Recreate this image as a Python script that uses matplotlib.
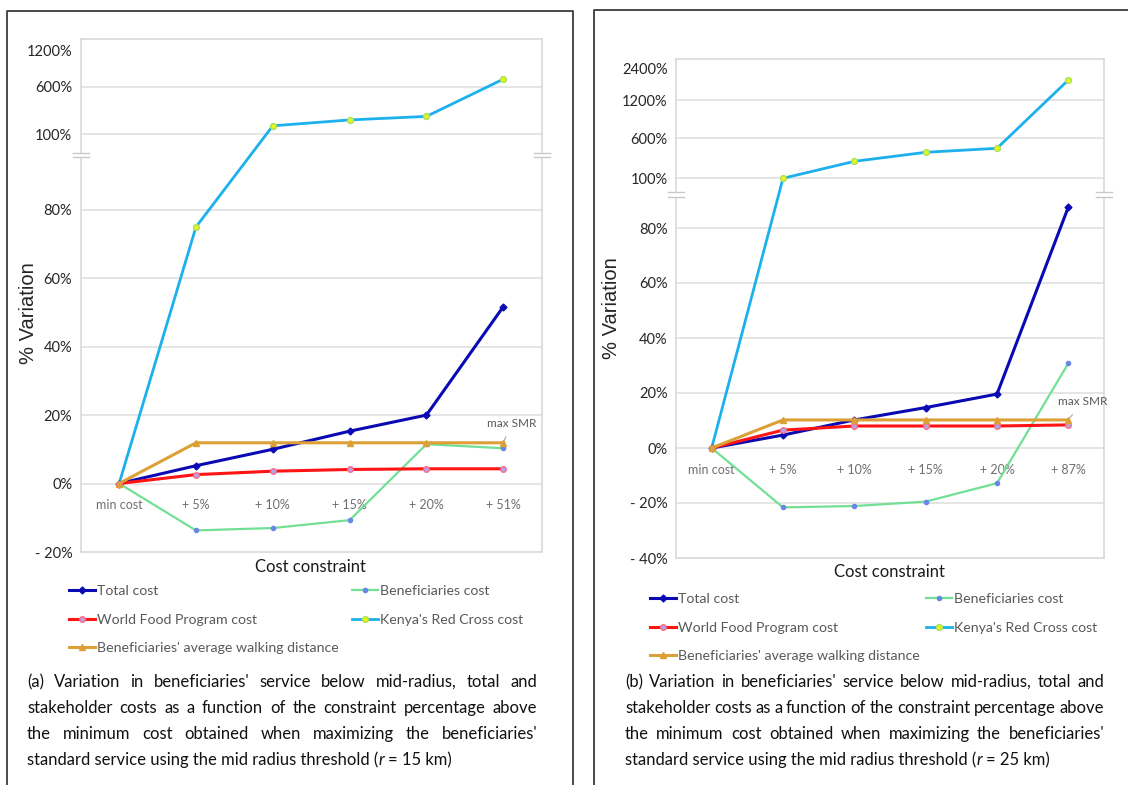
import numpy as np
import matplotlib
matplotlib.use("Agg")
import matplotlib.pyplot as plt
from matplotlib.lines import Line2D
from matplotlib.patches import Rectangle

plt.rcParams['font.family'] = ['Lato', 'DejaVu Sans']

# ---- data ----
cats_a = ['min cost', '+ 5%', '+ 10%', '+ 15%', '+ 20%', '+ 51%']
total_a = [0, 5.2, 10.0, 15.3, 20.0, 51.7]
bene_a = [0, -13.7, -13.0, -10.7, 11.5, 10.3]
wfp_a = [0, 2.6, 3.6, 4.1, 4.3, 4.3]
krc_a = [0, 75, 189, 251, 288, 723]
walk_a = [0, 11.9, 11.9, 11.9, 11.9, 11.9]

cats_b = ['min cost', '+ 5%', '+ 10%', '+ 15%', '+ 20%', '+ 87%']
total_b = [0, 4.7, 10.2, 14.7, 19.6, 87.6]
bene_b = [0, -21.6, -21.1, -19.5, -12.8, 30.8]
wfp_b = [0, 6.5, 8.0, 8.0, 8.0, 8.4]
krc_b = [0, 100, 312, 425, 475, 1950]
walk_b = [0, 10.2, 10.2, 10.2, 10.2, 10.2]

ticks_a = [-20, 0, 20, 40, 60, 80, 100, 600, 1200]
ticks_b = [-40, -20, 0, 20, 40, 60, 80, 100, 600, 1200, 2400]

labels = ['Total cost', 'Beneficiaries cost', 'World Food Program cost',
          "Kenya's Red Cross cost", "Beneficiaries' average walking distance"]

caption_a = ["(a) Variation in beneficiaries' service below mid-radius, total and",
             "stakeholder costs as a function of  the constraint percentage above",
             "the minimum cost obtained when maximizing the beneficiaries'"]
caption_b = ["(b) Variation in beneficiaries' service below mid-radius, total and",
             "stakeholder costs as a function of  the constraint percentage above",
             "the minimum cost obtained when maximizing the beneficiaries'"]
last_a = ("standard service using the mid radius threshold (", "r", " = 15 km)")
last_b = ("standard service using the mid radius threshold (", "r", " = 25 km)")

W, H = 1128, 785
fig = plt.figure(figsize=(W / 100, H / 100), dpi=100)
fig.patch.set_facecolor('white')


def fx(x):
    return x / W


def fy(y):
    return 1 - y / H


def pct(v):
    if v < 0:
        return '- %d%%' % -v
    return '%d%%' % v


# broken-axis scale: piecewise linear (value -> screen distance above 0%)
def broken_scale(vals, pos):
    vals = np.asarray(vals, float)
    pos = np.asarray(pos, float)

    def fwd(v):
        return np.interp(v, vals, pos)

    def inv(p):
        return np.interp(p, pos, vals)
    return fwd, inv


styles = [
    dict(color='#0a0ab4', lw=2.2, marker='D', ms=3.5, mfc='#0a0ab4', mec='#0a0ab4', zorder=4),
    dict(color='#72e094', lw=1.6, marker='o', ms=3, mfc='#6a86e6', mec='#6a86e6', zorder=3),
    dict(color='#ff1414', lw=2.2, marker='o', ms=4, mfc='#a8a8f0', mec='#ff6a8a', zorder=5),
    dict(color='#1cb0ec', lw=2.0, marker='o', ms=4.2, mfc='#e8f51a', mec='#a8e060', zorder=2),
    dict(color='#dca036', lw=2.2, marker='^', ms=4, mfc='#dca036', mec='#dca036', zorder=6),
]


def panel(box, series, cats, ticks, nodes, zero_y, break_y, smr_off, xl_y, cat_off):
    l, t, r, b = box
    ax = fig.add_axes([fx(l), fy(b), fx(r - l), (b - t) / H])
    vals, pos = nodes
    fwd, inv = broken_scale(vals, pos)
    ax.set_yscale('function', functions=(fwd, inv))
    ax.set_xlim(-0.5, 5.5)
    ax.set_ylim(ticks[0], inv(zero_y - t))
    for v in ticks[1:-1]:
        ax.axhline(v, color='#dedede', lw=1.1, zorder=0)
    for s in ax.spines.values():
        s.set_color('#d6d6d6')
        s.set_linewidth(1.1)
    ax.set_xticks([])
    ax.set_yticks(ticks, [pct(v) for v in ticks])
    ax.tick_params(axis='y', length=0, pad=6, labelsize=10.5, labelcolor='#262626')
    x = np.arange(len(cats))
    handles = []
    for vals_s, st in zip(series, styles):
        h, = ax.plot(x, vals_s, **st)
        handles.append(h)
    for i, c in enumerate(cats):
        ax.annotate(c, xy=(i, 0), xytext=(0, -cat_off), textcoords='offset points',
                    ha='center', va='center', fontsize=9, color='#6e6e6e', zorder=1)
    walk = series[4]
    ax.annotate('max SMR', xy=(5, walk[5]), xytext=smr_off, textcoords='offset points',
                ha='center', va='center', fontsize=8.5, color='#595959',
                arrowprops=dict(arrowstyle='-', color='#a6a6a6', lw=0.8, shrinkA=4, shrinkB=1))
    ax.set_ylabel('% Variation', fontsize=14.5, family='Liberation Sans', color='#262626')
    # break marks on both vertical edges
    for xe in (l, r):
        fig.add_artist(Rectangle((fx(xe - 3), fy(break_y + 2.3)), 6 / W, 4.6 / H,
                                 transform=fig.transFigure, color='white', zorder=5))
        for dy in (-2.3, 2.3):
            fig.add_artist(Line2D([fx(xe - 8), fx(xe + 8)], [fy(break_y + dy)] * 2,
                                  color='#c8c8c8', lw=1, zorder=6))
    fig.text(fx((l + r) / 2 - 1), fy(xl_y), 'Cost constraint', ha='center', va='center',
             fontsize=12, color='#1a1a1a')
    return ax, handles


ax_a, h_a = panel((80.7, 39, 541.7, 552), [total_a, bene_a, wfp_a, krc_a, walk_a], cats_a, ticks_a,
                  ([-100, -20, 0, 95, 100, 600, 1200, 3000],
                   [-342.5, -68.5, 0, 324.9, 349.2, 396.8, 433.5, 543.6]),
                  483.5, 155, (6, 14), 567, 15.5)
ax_b, h_b = panel((676, 59, 1104, 558), [total_b, bene_b, wfp_b, krc_b, walk_b], cats_b, ticks_b,
                  ([-100, -40, 0, 92, 100, 600, 1200, 2400, 5000],
                   [-275, -110, 0, 253, 269.7, 309.7, 348, 380, 449]),
                  448, 194.7, (10, 13), 572, 16)
ax_a.yaxis.set_label_coords((38 - 80.7) / (541.7 - 80.7), 0.466)
ax_b.yaxis.set_label_coords((621 - 676) / (1104 - 676), 0.50)

# legends (two columns placed separately)
for h, (c1x, c2x, y0) in ((h_a, (69, 352, 590)), (h_b, (650, 926, 598))):
    col1 = [h[0], h[2], h[4]]
    col2 = [h[1], h[3]]
    for handles, xx, labs in ((col1, c1x, [labels[0], labels[2], labels[4]]),
                              (col2, c2x, [labels[1], labels[3]])):
        fig.legend(handles, labs, loc='upper left', bbox_to_anchor=(fx(xx), fy(y0 - 5)),
                   frameon=False, borderpad=0, borderaxespad=0, handlelength=1.85,
                   handletextpad=0.12, labelspacing=1.17, fontsize=10.2, labelcolor='#595959')

# captions (justified like the original)
renderer = fig.canvas.get_renderer()
CAP = 12


def text_w(s, **kw):
    tt = fig.text(0, 0, s, fontsize=CAP, **kw)
    w = tt.get_window_extent(renderer).width
    tt.remove()
    return w


space_w = text_w('x x') - text_w('xx')


def caption(lines, last, x0, x1, y0, step):
    for k, line in enumerate(lines):
        words = [w for w in line.split(' ') if w]
        widths = [text_w(w) for w in words]
        gap = (x1 - x0 - sum(widths)) / (len(words) - 1)
        xc = x0
        for w, ww in zip(words, widths):
            fig.text(fx(xc), fy(y0 + k * step), w, fontsize=CAP, va='center', color='#111111')
            xc += ww + gap
    y = y0 + len(lines) * step
    p1, p2, p3 = last
    fig.text(fx(x0), fy(y), p1, fontsize=CAP, va='center', color='#111111')
    xc = x0 + text_w(p1)
    fig.text(fx(xc), fy(y), p2, fontsize=CAP, va='center', style='italic', color='#111111')
    xc += text_w(p2, style='italic') + space_w
    fig.text(fx(xc), fy(y), p3.strip(), fontsize=CAP, va='center', color='#111111')


caption(caption_a, last_a, 27, 537, 682, 26)
caption(caption_b, last_b, 625, 1104, 682, 26)

# panel frames
for xs, ys in (([7, 7, 573, 573], [785, 11, 11, 785]), ([594, 594, 1128], [785, 10, 10])):
    fig.add_artist(Line2D([fx(v) for v in xs], [fy(v) for v in ys], color='#3c3c3c', lw=1.3, zorder=7))

fig.savefig('out.png', dpi=100)
